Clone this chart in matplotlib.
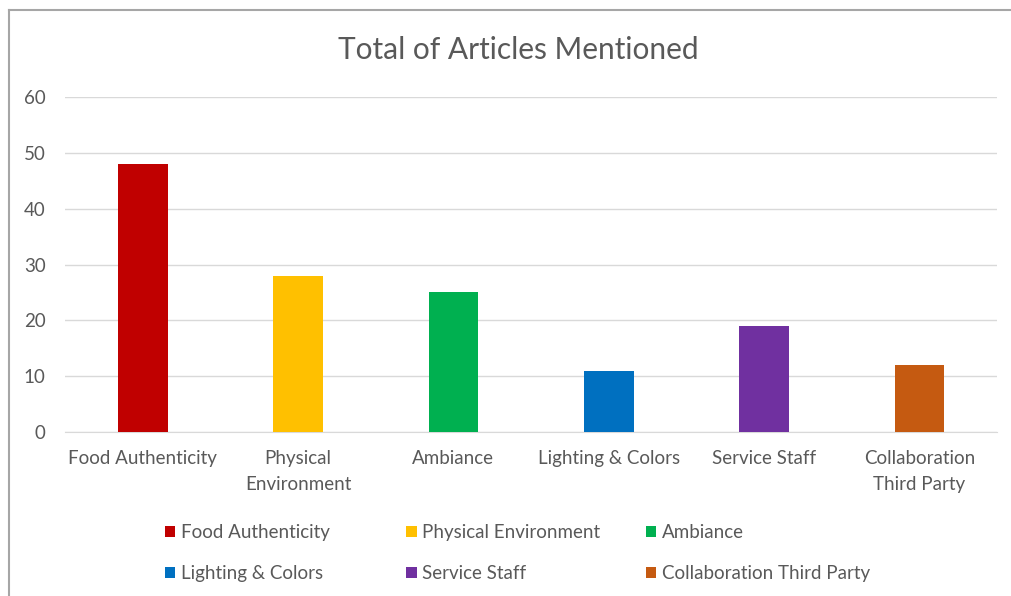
import matplotlib.pyplot as plt
from matplotlib.lines import Line2D

# data
categories = ['Food Authenticity', 'Physical Environment', 'Ambiance',
              'Lighting & Colors', 'Service Staff', 'Collaboration Third Party']
tickLabels = ['Food Authenticity', 'Physical\nEnvironment', 'Ambiance',
              'Lighting & Colors', 'Service Staff', 'Collaboration\nThird Party']
articleCounts = [48, 28, 25, 11, 19, 12]
barColors = ['#C00000', '#FFC000', '#00B050', '#0070C0', '#7030A0', '#C55A11']

textColor = '#595959'
gridColor = '#D9D9D9'
fontSize = 13.5

plt.rcParams['font.family'] = ['Lato', 'DejaVu Sans']

fig = plt.figure(figsize=(10.11, 5.96), dpi=100)
ax = fig.add_axes([0.0643, 0.2752, 0.922, 0.562])

bars = ax.bar(range(len(categories)), articleCounts, width=0.32,
              color=barColors, zorder=3)
for bar, name in zip(bars, categories):
    bar.set_label(name)

ax.set_xlim(-0.5, len(categories) - 0.5)
ax.set_ylim(0, 60)
ax.set_yticks(range(0, 61, 10))
ax.set_xticks(range(len(categories)))
ax.set_xticklabels(tickLabels, linespacing=1.65)
ax.tick_params(axis='both', length=0, labelsize=fontSize, labelcolor=textColor)
ax.tick_params(axis='x', pad=13)
ax.tick_params(axis='y', pad=14)
ax.grid(axis='y', color=gridColor, lw=1, zorder=0)
for side in ['top', 'right', 'left']:
    ax.spines[side].set_visible(False)
ax.spines['bottom'].set_color(gridColor)

fig.text(0.513, 0.916, 'Total of Articles Mentioned', ha='center', va='center',
         fontsize=21.5, color=textColor)

# legend laid out in three fixed-width columns like Excel
handles = list(bars)
colX = [0.163, 0.402, 0.639]
for i, x in enumerate(colX):
    fig.legend(handles=[handles[i], handles[i + 3]],
               labels=[categories[i], categories[i + 3]],
               loc='upper left', bbox_to_anchor=(x, 0.12),
               bbox_transform=fig.transFigure, frameon=False,
               fontsize=fontSize, labelcolor=textColor,
               handlelength=0.55, handleheight=0.55, handletextpad=0.3,
               labelspacing=1.25, borderpad=0, borderaxespad=0)

# chart frame (left and top edges visible)
fig.add_artist(Line2D([0.009, 0.009], [0, 0.983], transform=fig.transFigure,
                      color='#A6A6A6', lw=1.5))
fig.add_artist(Line2D([0.009, 1.0], [0.983, 0.983], transform=fig.transFigure,
                      color='#A6A6A6', lw=1.5))

plt.savefig('out.png', dpi=100)
plt.close()
